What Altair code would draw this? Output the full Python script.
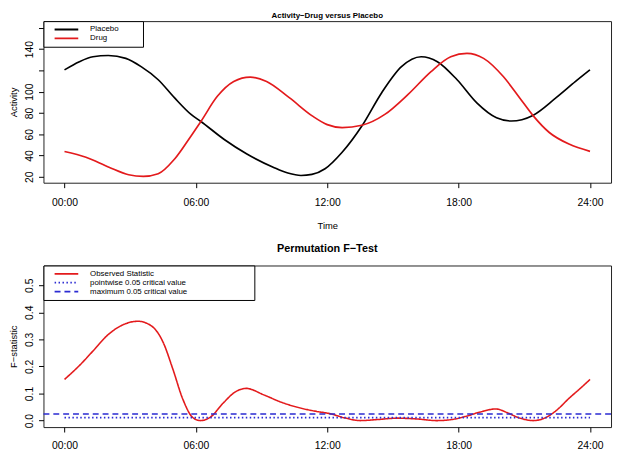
import altair as alt
import pandas as pd

# ---------------- data ----------------
# Top panel: Activity (hour of day, value)
placebo_hours = [0, 0.68, 1.3, 2.0, 2.8, 3.5, 4.28, 5.03, 5.78, 6.23, 7.28, 8.33, 9.53, 10.2, 10.8,
                 11.3, 11.9, 12.68, 13.58, 14.48, 15.39, 16.29, 17.03, 17.93, 18.83, 19.73, 20.41,
                 21.39, 22.44, 23.34, 24]
placebo_vals = [120.5, 128.2, 132.8, 134.0, 131.3, 123.5, 111.2, 94.1, 78.6, 72.0, 55.3, 41.4, 29.0,
                23.5, 21.2, 22.2, 27.5, 43.0, 67.7, 98.8, 123.5, 132.8, 128.2, 111.2, 89.5, 75.5,
                72.4, 77.7, 94.1, 109.6, 120.5]

drug_hours = [0, 0.98, 2.03, 2.93, 3.6, 4.28, 5.03, 5.78, 6.23, 6.98, 7.73, 8.48, 9.23, 10.28, 11.33,
              12.0, 12.68, 13.58, 14.63, 15.68, 16.74, 17.64, 18.38, 19.14, 20.04, 20.79, 21.39,
              22.14, 23.04, 24]
drug_vals = [43.7, 38.3, 29.0, 21.9, 20.3, 22.8, 36.7, 58.4, 72.0, 95.6, 109.6, 113.7, 109.6, 94.1,
             77.0, 69.0, 66.2, 68.4, 78.6, 97.2, 118.9, 132.8, 136.0, 131.3, 114.2, 94.1, 77.7,
             61.6, 50.7, 43.9]

# Bottom panel: permutation F-test
f_hours = [0, 0.7, 1.3, 2.0, 2.7, 3.35, 4.0, 4.5, 4.95, 5.4, 5.85, 6.2, 6.65, 7.25, 7.8, 8.3, 9.1,
           9.9, 10.6, 11.5, 12.1, 12.8, 13.5, 14.3, 15.2, 16.1, 17.0, 17.7, 18.3, 19.0, 19.7, 20.2,
           20.7, 21.4, 22.0, 22.5, 23.05, 23.5, 24]
f_vals = [0.152, 0.205, 0.257, 0.318, 0.355, 0.367, 0.348, 0.29, 0.19, 0.08, 0.012, 0.0, 0.012,
          0.065, 0.106, 0.119, 0.095, 0.068, 0.05, 0.034, 0.026, 0.01, 0.0, 0.004, 0.009, 0.006,
          0.0, 0.004, 0.015, 0.032, 0.043, 0.03, 0.012, 0.0, 0.012, 0.04, 0.083, 0.115, 0.152]

pointwise_hours = [0, 6, 12, 18, 24]
pointwise_vals = [0.011, 0.011, 0.011, 0.011, 0.011]
max_crit = 0.024

tick_hours = [0, 6, 12, 18, 24]
tick_labels = ["00:00", "06:00", "12:00", "18:00", "24:00"]
activity_ticks = [20, 40, 60, 80, 100, 120, 140, 160]
activity_tick_labels = ["20", "40", "60", "80", "100", "", "140", ""]
f_ticks = [0.0, 0.1, 0.2, 0.3, 0.4, 0.5]
f_tick_labels = ["0.0", "0.1", "0.2", "0.3", "0.4", "0.5"]

top_series = ["Placebo", "Drug"]
bot_series = ["Observed Statistic", "pointwise 0.05 critical value", "maximum 0.05 critical value"]

RED = "#e31a1c"
BLUE = "#2b2bd2"
FONT = "Liberation Sans"


def label_expr(values, labels):
    expr = "''"
    for v, l in reversed(list(zip(values, labels))):
        expr = f"abs(datum.value - ({v})) < 1e-9 ? '{l}' : " + expr
    return expr


W, H = 576, 164
X_DOMAIN = [-0.96, 24.96]

axis_common = dict(domain=False, grid=False, tickSize=5, tickColor="black", tickWidth=1,
                   labelFont=FONT, labelFontSize=10.5, labelColor="black", labelOverlap=False,
                   labelBound=False,
                   titleFont=FONT, titleFontSize=9.5, titleFontWeight="normal", titleColor="black")


def make_legend(extra_width):
    # a white (invisible) title on the right widens the box like R's legend box
    return alt.Legend(title=".", titleOrient="right", titleFontSize=8, titleColor="white",
                      titlePadding=extra_width,
                      orient="top-left", offset=0, padding=4.5,
                      strokeColor="black", fillColor="white", symbolType="stroke",
                      symbolSize=576, symbolStrokeWidth=1.8, symbolOffset=5.8, labelOffset=11,
                      labelFont=FONT, labelFontSize=8, labelColor="black", labelLimit=1000,
                      clipHeight=8, rowPadding=1)


# ---------------- top panel ----------------
top_df = pd.concat([
    pd.DataFrame({"hour": placebo_hours, "value": placebo_vals, "series": top_series[0]}),
    pd.DataFrame({"hour": drug_hours, "value": drug_vals, "series": top_series[1]}),
])

top = alt.Chart(top_df).mark_line(strokeWidth=1.7, interpolate="monotone").encode(
    x=alt.X("hour:Q", scale=alt.Scale(domain=X_DOMAIN, nice=False, zero=False),
            axis=alt.Axis(values=tick_hours, labelExpr=label_expr(tick_hours, tick_labels),
                          title="Time", labelPadding=10, titlePadding=13.3, **axis_common)),
    y=alt.Y("value:Q", scale=alt.Scale(domain=[14.4, 166.3], nice=False, zero=False),
            axis=alt.Axis(values=activity_ticks,
                          labelExpr=label_expr(activity_ticks, activity_tick_labels),
                          title="Activity", labelAngle=270, labelAlign="center",
                          labelBaseline="bottom", labelPadding=4, titlePadding=6.5,
                          **axis_common)),
    color=alt.Color("series:N", scale=alt.Scale(domain=top_series, range=["black", RED]),
                    legend=make_legend(17)),
).properties(
    width=W, height=H,
    title=alt.TitleParams("Activity\u2212Drug versus Placebo", fontSize=8, fontWeight="bold",
                          font=FONT, color="black", offset=0.5, anchor="middle", frame="group"),
)

# ---------------- bottom panel ----------------
bot_df = pd.concat([
    pd.DataFrame({"hour": f_hours, "value": f_vals, "series": bot_series[0]}),
    pd.DataFrame({"hour": pointwise_hours, "value": pointwise_vals, "series": bot_series[1]}),
])
max_df = pd.DataFrame({"value": [max_crit], "series": [bot_series[2]]})

color_scale = alt.Scale(domain=bot_series, range=[RED, BLUE, BLUE])
dash_scale = alt.Scale(domain=bot_series, range=[[1, 0], [1.5, 2.5], [6, 4]])
bot_legend = make_legend(61)

x_bot = alt.X("hour:Q", scale=alt.Scale(domain=X_DOMAIN, nice=False, zero=False),
              axis=alt.Axis(values=tick_hours, labelExpr=label_expr(tick_hours, tick_labels),
                            title=None, labelPadding=9, **axis_common))
y_bot = alt.Y("value:Q", scale=alt.Scale(domain=[-0.024, 0.573], nice=False, zero=False),
              axis=alt.Axis(values=f_ticks, labelExpr=label_expr(f_ticks, f_tick_labels),
                            title="F\u2212statistic", labelAngle=270, labelAlign="center",
                            labelBaseline="bottom", labelPadding=4, titlePadding=6.5,
                            **axis_common))

bot_lines = alt.Chart(bot_df).mark_line(strokeWidth=1.6, interpolate="monotone").encode(
    x=x_bot, y=y_bot,
    color=alt.Color("series:N", scale=color_scale, legend=bot_legend),
    strokeDash=alt.StrokeDash("series:N", scale=dash_scale, legend=bot_legend),
)
bot_rule = alt.Chart(max_df).mark_rule(strokeWidth=1.5).encode(
    y=y_bot,
    color=alt.Color("series:N", scale=color_scale, legend=bot_legend),
    strokeDash=alt.StrokeDash("series:N", scale=dash_scale, legend=bot_legend),
)
bottom = alt.layer(bot_lines, bot_rule).properties(
    width=W, height=H,
    title=alt.TitleParams("Permutation F\u2212Test", fontSize=11, fontWeight="bold", font=FONT,
                          color="black", offset=10.7, anchor="middle", frame="group"),
)

chart = alt.vconcat(top, bottom, spacing=12).resolve_scale(
    color="independent", strokeDash="independent"
).properties(
    padding=0, background="white"
).configure(font=FONT).configure_view(stroke="#222222", strokeWidth=1)

chart.save("out.html", embed_options={"renderer": "svg", "actions": False})
